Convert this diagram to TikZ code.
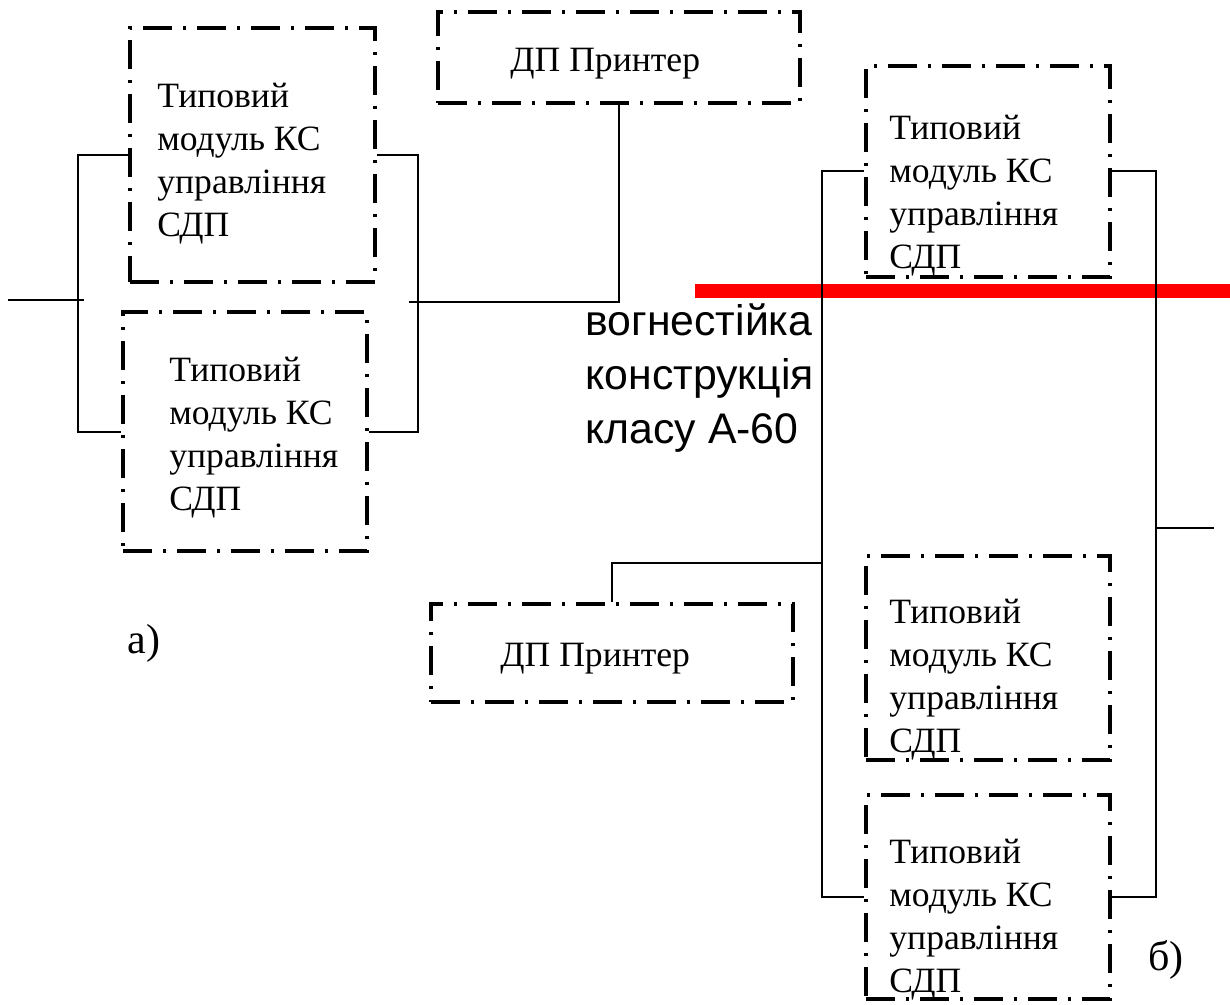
\documentclass[tikz,border=0pt]{standalone}
\usepackage{fontspec}
\setmainfont{Liberation Serif}
\newfontfamily\notesans{Liberation Sans}
\begin{document}
\begin{tikzpicture}[x=0.5pt,y=-0.5pt,
  unitbox/.style={draw, line width=2pt, inner sep=0pt,
    dash pattern=on 14.5pt off 5.5pt on 1.5pt off 5.5pt},
  % multi-line text: the base anchor sits on the last line
  modtext/.style={inner sep=0pt, anchor=base west, align=left,
    font=\fontsize{17.8}{21.5}\selectfont},
  prntext/.style={inner sep=0pt, anchor=base west,
    font=\fontsize{17.8}{21.5}\selectfont},
  tag/.style={inner sep=0pt, anchor=base west,
    font=\fontsize{21}{25}\selectfont},
  wire/.style={line width=1pt},
  firewall/.style={draw=red, line width=7pt}]

\useasboundingbox (0,0) rectangle (1230,1005);

% ---- a) duplicated control module ----
\node[unitbox, minimum width=122.5pt, minimum height=127pt] (A1) at (252.5,155) {};
\node[unitbox, minimum width=122pt, minimum height=119.5pt] (A2) at (245,431.5) {};
\node[unitbox, minimum width=181pt, minimum height=45.5pt] (P1) at (619,57.5) {};

\node[modtext] (tA1) at (157,237) {Типовий\\модуль КС\\управління\\СДП};
\node[modtext] (tA2) at (169,510) {Типовий\\модуль КС\\управління\\СДП};
\node[prntext] (tP1) at (510,72) {ДП Принтер};

\coordinate (aL) at (78,300);
\coordinate (aR) at (418,302);
\coordinate (inA) at (8,300);
\coordinate (aTap) at (409,302);

\draw[wire] (A1.west) -| (aL) |- (A2.west);
\draw[wire] (A1.east) -| (aR) |- (A2.east);
\draw[wire] (inA) -- ([xshift=3pt]aL);
\draw[wire] (aTap) -| (P1.south);

\node[tag] (la) at (127,653) {а)};

% ---- fire-resistant partition ----
\coordinate (wallL) at (695,291);
\coordinate (wallR) at (1230,291);
\draw[firewall] (wallL) -- (wallR);
\node[inner sep=0pt, anchor=base west, align=left,
  font=\notesans\fontsize{21.4}{27}\selectfont] (wall) at (585,443)
  {вогнестійка\\конструкція\\класу А-60};

% ---- b) modules split by the partition ----
\node[unitbox, minimum width=122pt, minimum height=105.5pt] (B1) at (988,171.5) {};
\node[unitbox, minimum width=122pt, minimum height=102pt] (B3) at (988,658) {};
\node[unitbox, minimum width=122pt, minimum height=102pt] (B4) at (988,897) {};
\node[unitbox, minimum width=181pt, minimum height=49pt] (P2) at (612,653) {};

\node[modtext] (tB1) at (889,269) {Типовий\\модуль КС\\управління\\СДП};
\node[modtext] (tB3) at (889,752) {Типовий\\модуль КС\\управління\\СДП};
\node[modtext] (tB4) at (889,992) {Типовий\\модуль КС\\управління\\СДП};
\node[prntext] (tP2) at (500,666) {ДП Принтер};

\coordinate (bL) at (822,563);
\coordinate (bR) at (1156,528);
\coordinate (outB) at (1214,528);

\draw[wire] (B1.west) -| (bL) |- (B4.west);
\draw[wire] (B1.east) -| (bR) |- (B4.east);
\draw[wire] (bL) -| (P2.north);
\draw[wire] (bR) -- (outB);

\node[tag] (lb) at (1148,970) {б)};
\end{tikzpicture}
\end{document}
